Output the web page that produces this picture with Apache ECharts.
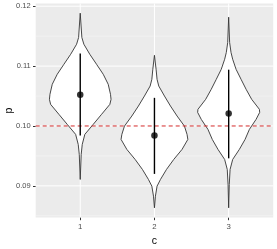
<!DOCTYPE html>
<html><head><meta charset="utf-8">
<script src="https://cdn.jsdelivr.net/npm/echarts@6/dist/echarts.min.js"></script>
<style>html,body{margin:0;padding:0;background:#fff}#c{width:277px;height:249px}</style>
</head><body><div id="c"></div>
<script>
const categories = ['1', '2', '3'];
const pointValues = [0.1052, 0.0984, 0.1021];
const barLow = [0.0984, 0.0920, 0.0946];
const barHigh = [0.1121, 0.1047, 0.1094];
const refLine = 0.10;
const yTicks = [0.09, 0.10, 0.11, 0.12];
const yMinor = [0.085, 0.095, 0.105, 0.115];

// violin profiles: y values and half-widths (in category units)
const violin1Y = [0.09107, 0.09525, 0.09692, 0.09860, 0.10027, 0.10194, 0.10361, 0.10445, 0.10528, 0.10696, 0.10863, 0.11030, 0.11197, 0.11365, 0.11477, 0.11883];
const violin1W = [0.000, 0.013, 0.027, 0.062, 0.175, 0.287, 0.399, 0.415, 0.408, 0.377, 0.310, 0.220, 0.129, 0.049, 0.022, 0.000];
const violin2Y = [0.08634, 0.08828, 0.08995, 0.09107, 0.09274, 0.09441, 0.09609, 0.09776, 0.09860, 0.09998, 0.10166, 0.10333, 0.10500, 0.10667, 0.10779, 0.10947, 0.11180];
const violin2W = [0.000, 0.013, 0.035, 0.081, 0.162, 0.260, 0.372, 0.450, 0.439, 0.404, 0.305, 0.216, 0.135, 0.058, 0.035, 0.022, 0.000];
const violin3Y = [0.08634, 0.09023, 0.09274, 0.09441, 0.09609, 0.09776, 0.09943, 0.10110, 0.10227, 0.10278, 0.10445, 0.10612, 0.10779, 0.10946, 0.11114, 0.11226, 0.11393, 0.11816];
const violin3W = [0.000, 0.008, 0.019, 0.054, 0.144, 0.221, 0.279, 0.369, 0.418, 0.414, 0.310, 0.235, 0.167, 0.100, 0.054, 0.032, 0.013, 0.000];

const violinY = [violin1Y, violin2Y, violin3Y];
const violinW = [violin1W, violin2W, violin3W];

const chart = echarts.init(document.getElementById('c'), null, {renderer: 'canvas'});
const FONT = 'Liberation Sans, Arial, sans-serif';

function hLine(color, width, dash) {
  return function (params, api) {
    const cs = params.coordSys;
    const y = api.coord([1, api.value(0)])[1];
    return {type: 'line', shape: {x1: cs.x, y1: y, x2: cs.x + cs.width, y2: y},
      style: {stroke: color, lineWidth: width, lineDash: dash || null}};
  };
}

const option = {
  animation: false,
  grid: {left: 35.7, right: 3.8, top: 3.5, bottom: 31.5, show: true, backgroundColor: '#EBEBEB', borderWidth: 0,
    containLabel: false, outerBoundsMode: 'none'},
  xAxis: {
    type: 'value', min: 0.4, max: 3.6,
    name: 'c', nameLocation: 'middle', nameGap: 18, nameMoveOverlap: false,
    nameTextStyle: {fontFamily: FONT, fontSize: 10.5, color: '#000'},
    axisLine: {show: false},
    axisTick: {show: true, length: 2.7, customValues: [1, 2, 3], lineStyle: {color: '#333', width: 1}},
    axisLabel: {customValues: [1, 2, 3], formatter: v => categories[Math.round(v) - 1], fontFamily: FONT, fontSize: 7.8, color: '#4D4D4D', margin: 5},
    splitLine: {show: false}
  },
  yAxis: {
    type: 'value', min: 0.08472, max: 0.12045,
    name: 'p', nameLocation: 'middle', nameGap: 21, nameMoveOverlap: false,
    nameTextStyle: {fontFamily: FONT, fontSize: 10.5, color: '#000'},
    axisLine: {show: false},
    axisTick: {show: true, length: 2.7, customValues: yTicks, lineStyle: {color: '#333', width: 1}},
    axisLabel: {customValues: yTicks, formatter: v => v.toFixed(2), fontFamily: FONT, fontSize: 7.5, color: '#4D4D4D', margin: 5,
      hideOverlap: false},
    splitLine: {show: false}
  },
  series: [
    {type: 'custom', z: 1, silent: true, data: yMinor.map(v => [v]), encode: {y: 0},
      renderItem: hLine('#F7F7F7', 0.6)},
    {type: 'custom', z: 1, silent: true, data: yTicks.map(v => [v]), encode: {y: 0},
      renderItem: hLine('#FFFFFF', 1)},
    {type: 'custom', z: 1, silent: true, data: categories.map((c, i) => [i + 1]), encode: {x: 0},
      renderItem: function (params, api) {
        const cs = params.coordSys;
        const x = api.coord([api.value(0), 0.1])[0];
        return {type: 'line', shape: {x1: x, y1: cs.y, x2: x, y2: cs.y + cs.height}, style: {stroke: '#fff', lineWidth: 1}};
      }},
    {type: 'custom', z: 2, silent: true, data: categories.map((c, i) => [i + 1, pointValues[i]]), encode: {x: 0, y: 1},
      renderItem: function (params, api) {
        const i = params.dataIndex;
        const cx = api.value(0);
        const ys = violinY[i], ws = violinW[i];
        const pts = [];
        for (let k = 0; k < ys.length; k++) pts.push(api.coord([cx + ws[k], ys[k]]));
        for (let k = ys.length - 1; k >= 0; k--) pts.push(api.coord([cx - ws[k], ys[k]]));
        return {type: 'polygon', shape: {points: pts}, style: {fill: '#fff', stroke: '#333', lineWidth: 0.9, lineJoin: 'round'}};
      }},
    {type: 'custom', z: 3, silent: true, data: [[refLine]], encode: {y: 0},
      renderItem: hLine('#D42A2A', 1, [4, 3])},
    {type: 'custom', z: 4, silent: true, data: categories.map((c, i) => [i + 1, barLow[i], barHigh[i]]), encode: {x: 0, y: [1, 2]},
      renderItem: function (params, api) {
        const p1 = api.coord([api.value(0), api.value(1)]);
        const p2 = api.coord([api.value(0), api.value(2)]);
        return {type: 'line', shape: {x1: p1[0], y1: p1[1], x2: p2[0], y2: p2[1]}, style: {stroke: '#000', lineWidth: 1.4}};
      }},
    {type: 'scatter', z: 5, silent: true, symbol: 'circle', symbolSize: 6.5, itemStyle: {color: '#000'},
      data: categories.map((c, i) => [i + 1, pointValues[i]])}
  ]
};
chart.setOption(option);
</script>
</body></html>
